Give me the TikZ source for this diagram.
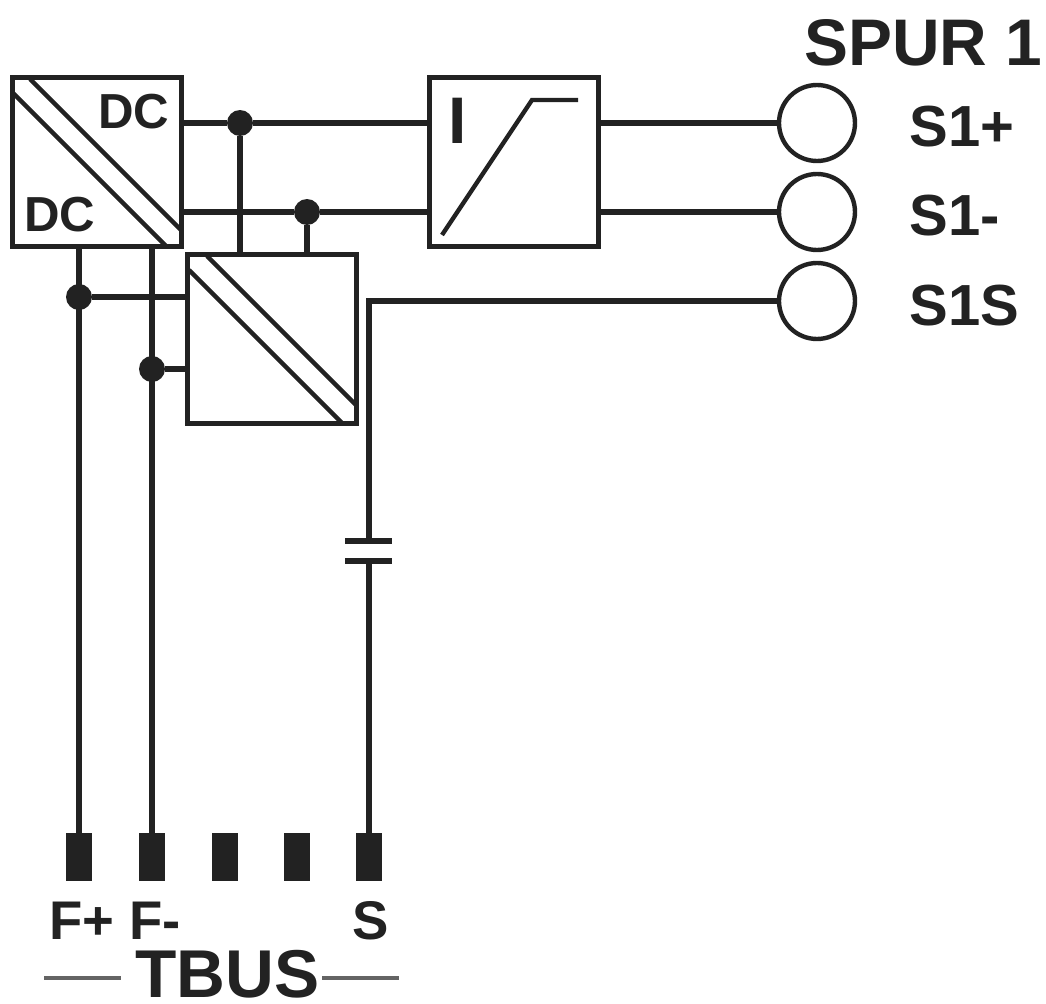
\documentclass[tikz,border=0pt]{standalone}
\usepackage{fontspec}
\setmainfont{Liberation Sans}
\usepackage{xcolor}
\definecolor{ink}{HTML}{222222}

\begin{document}
\begin{tikzpicture}[x=0.02cm,y=-0.02cm,
        wire/.style={ink, line width=3pt},
        thinwire/.style={ink, line width=2.5pt},
        boxed/.style={draw=ink, line width=2.4pt, minimum size=3.38cm, outer sep=0pt, inner sep=0pt},
        port/.style={circle, draw=ink, line width=2.5pt, minimum size=1.52cm, outer sep=0pt, inner sep=0pt},
        dot/.style={circle, fill=ink, minimum size=0.52cm, outer sep=0pt, inner sep=0pt},
        pin/.style={fill=ink, minimum width=0.54cm, minimum height=0.96cm, outer sep=0pt, inner sep=0pt},
        lbl/.style={ink, anchor=base west, inner sep=0pt, font=\bfseries\fontsize{31}{31}\selectfont},
        spurlbl/.style={lbl, font=\bfseries\fontsize{33}{33}\selectfont},
        biglbl/.style={lbl, font=\bfseries\fontsize{37.5}{37.5}\selectfont},
        dclbl/.style={lbl, font=\bfseries\fontsize{28}{28}\selectfont}]
    \useasboundingbox (0,0) rectangle (1046,1004);
    % boxes
    \node[boxed] (dcdc) at (97,162) {};
    \node[boxed] (aux) at (272,339) {};
    \node[boxed] (limit) at (514,162) {};
    \draw[thinwire] (30,79) -- (181,230);
    \draw[thinwire] (13,93) -- (167,247);
    \draw[thinwire] (207,256) -- (356,405);
    \draw[thinwire] (189,270) -- (342,423);
    \draw[thinwire] (442,235) -- (532,100) -- (578,100);
    % spur ports
    \node[port] (splus) at (817,123) {};
    \node[port] (sminus) at (817,212) {};
    \node[port] (ssig) at (817,301) {};
    % junctions
    \node[dot] (jtop) at (240,123) {};
    \node[dot] (jlow) at (307,212) {};
    \node[dot] (jfp) at (79,297) {};
    \node[dot] (jfm) at (152,369) {};
    % bus pins
    \node[pin] (pfp) at (79,857) {};
    \node[pin] (pfm) at (152,857) {};
    \node[pin] (pa) at (225,857) {};
    \node[pin] (pb) at (297,857) {};
    \node[pin] (ps) at (369,857) {};
    % wires
    \draw[wire] (dcdc.east |- jtop) -- (jtop) -- (limit.west |- jtop);
    \draw[wire] (dcdc.east |- jlow) -- (jlow) -- (limit.west |- jlow);
    \draw[wire] (limit.east |- splus) -- (splus);
    \draw[wire] (limit.east |- sminus) -- (sminus);
    \draw[wire] (jtop) -- (jtop |- aux.north);
    \draw[wire] (jlow) -- (jlow |- aux.north);
    \draw[wire] (jfp |- dcdc.south) -- (pfp);
    \draw[wire] (jfm |- dcdc.south) -- (pfm);
    \draw[wire] (jfp) -- (aux.west |- jfp);
    \draw[wire] (jfm) -- (aux.west |- jfm);
    % signal line with capacitor
    \coordinate (capa) at (369,541);
    \coordinate (capb) at (369,561);
    \coordinate (bend) at (369,301);
    \draw[wire, line join=miter] (ssig) -- (bend) -- (capa);
    \draw[wire] (capb) -- (ps);
    \draw[wire] (345,541) -- (392,541);
    \draw[wire] (345,561) -- (392,561);
    % bus rules
    \draw[ink!70, line width=2pt] (44,978) -- (121,978);
    \draw[ink!70, line width=2pt] (322,978) -- (399,978);
    % labels
    \node[biglbl] (spur) at (804,65) {SPUR 1};
    \node[spurlbl] (lplus) at (909,146) {S1+};
    \node[spurlbl] (lminus) at (909,235) {S1-};
    \node[spurlbl] (lsig) at (909,325) {S1S};
    \node[dclbl] (dcout) at (98,128) {DC};
    \node[dclbl] (dcin) at (24,231) {DC};
    \node[biglbl] (cur) at (448,143) {I};
    \node[lbl] (lfp) at (49,939) {F+};
    \node[lbl] (lfm) at (129,939) {F-};
    \node[lbl] (ls) at (352,939) {S};
    \node[biglbl, font=\bfseries\fontsize{38.5}{38.5}\selectfont] (tbus) at (135,997) {TBUS};
\end{tikzpicture}
\end{document}
